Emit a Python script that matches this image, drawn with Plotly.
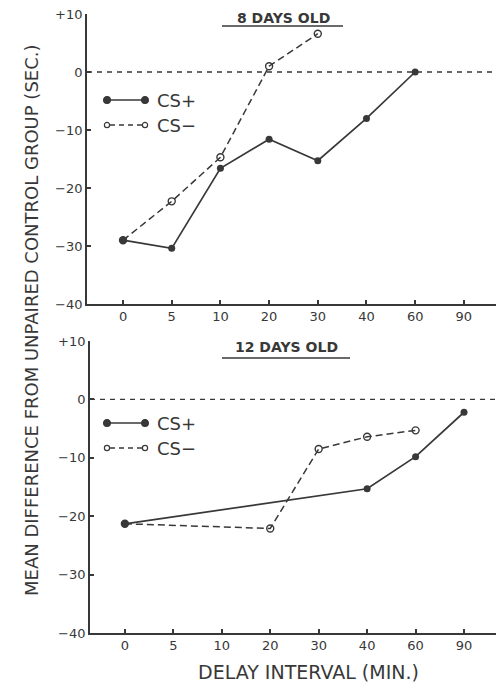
import plotly.graph_objects as go

W, H = 496, 683

categories = ["0", "5", "10", "20", "30", "40", "60", "90"]
y_tickvals = [10, 0, -10, -20, -30, -40]
y_ticktext = ["+10", "0", "\u221210", "\u221220", "\u221230", "\u221240"]

# 8 days old
d8_csplus_x = ["0", "5", "10", "20", "30", "40", "60"]
d8_csplus_y = [-29.0, -30.4, -16.6, -11.6, -15.3, -8.0, 0.0]
d8_csminus_x = ["0", "5", "10", "20", "30"]
d8_csminus_y = [-29.0, -22.3, -14.7, 1.0, 6.6]

# 12 days old
d12_csplus_x = ["0", "40", "60", "90"]
d12_csplus_y = [-21.3, -15.3, -9.8, -2.2]
d12_csminus_x = ["0", "20", "30", "40", "60"]
d12_csminus_y = [-21.3, -22.1, -8.5, -6.4, -5.3]

INK = "#383838"
FONT = "DejaVu Sans"


def px(x):
    return x / W


def py(y):
    return 1 - y / H


fig = go.Figure()

panels = [
    dict(xa="x", ya="y", cp=(d8_csplus_x, d8_csplus_y), cm=(d8_csminus_x, d8_csminus_y)),
    dict(xa="x2", ya="y2", cp=(d12_csplus_x, d12_csplus_y), cm=(d12_csminus_x, d12_csminus_y)),
]

for p in panels:
    fig.add_trace(go.Scatter(
        x=p["cm"][0], y=p["cm"][1], xaxis=p["xa"], yaxis=p["ya"],
        mode="lines+markers", showlegend=False, cliponaxis=False,
        line=dict(color=INK, width=1.5, dash="7px,4px"),
        marker=dict(symbol="circle-open", size=7, color=INK, line=dict(width=1.4)),
    ))
    fig.add_trace(go.Scatter(
        x=p["cp"][0], y=p["cp"][1], xaxis=p["xa"], yaxis=p["ya"],
        mode="lines+markers", showlegend=False, cliponaxis=False,
        line=dict(color=INK, width=1.7),
        marker=dict(symbol="circle", size=7, color=INK),
    ))

axis_common = dict(
    showline=True, linecolor=INK, linewidth=1.7, automargin=False,
    ticks="inside", ticklen=4, tickwidth=1.5, tickcolor=INK,
    showgrid=False, zeroline=False,
    tickfont=dict(family=FONT, size=13, color=INK),
)

fig.update_layout(
    width=W, height=H,
    margin=dict(l=0, r=0, t=0, b=0),
    paper_bgcolor="white", plot_bgcolor="white",
    xaxis=dict(domain=[px(87), 1], anchor="y", type="category",
               categoryarray=categories, tickvals=categories,
               range=[-0.74, 7.66], **axis_common),
    yaxis=dict(domain=[py(304), py(14)], anchor="x", range=[-40, 10],
               tickvals=y_tickvals, ticktext=y_ticktext, **axis_common),
    xaxis2=dict(domain=[px(90), 1], anchor="y2", type="category",
                categoryarray=categories, tickvals=categories,
                range=[-0.72, 7.66], **axis_common),
    yaxis2=dict(domain=[py(633), py(341)], anchor="x2", range=[-40, 10],
                tickvals=y_tickvals, ticktext=y_ticktext, **axis_common),
)

shapes = []
annotations = []

# zero reference lines
for xr, yr in (("x domain", "y"), ("x2 domain", "y2")):
    shapes.append(dict(type="line", xref=xr, yref=yr, x0=0, x1=1, y0=0, y1=0,
                       line=dict(color=INK, width=1.4, dash="5px,5px")))

# panel titles with underline
for label, cx, cy, ux0, ux1, uy in (("8 DAYS OLD", 283, 18, 222, 343, 26),
                                     ("12 DAYS OLD", 286, 347, 222, 350, 358)):
    annotations.append(dict(text="<b>%s</b>" % label, x=px(cx), y=py(cy),
                            xref="paper", yref="paper",
                            showarrow=False, xanchor="center", yanchor="middle",
                            font=dict(family=FONT, size=14, color=INK)))
    shapes.append(dict(type="line", xref="paper", yref="paper",
                       x0=px(ux0), x1=px(ux1), y0=py(uy), y1=py(uy),
                       line=dict(color=INK, width=1.7)))


# legends
def circle(cx, cy, r, filled):
    return dict(type="circle", xref="paper", yref="paper",
                x0=px(cx - r), x1=px(cx + r), y0=py(cy + r), y1=py(cy - r),
                fillcolor=INK if filled else "white",
                line=dict(color=INK, width=1.2))


for y_plus, y_minus in ((100, 125), (423, 448)):
    shapes.append(dict(type="line", xref="paper", yref="paper",
                       x0=px(107), x1=px(145), y0=py(y_plus), y1=py(y_plus),
                       line=dict(color=INK, width=1.7)))
    shapes.append(circle(107, y_plus, 3.4, True))
    shapes.append(circle(145, y_plus, 3.4, True))
    shapes.append(dict(type="line", xref="paper", yref="paper",
                       x0=px(110), x1=px(142), y0=py(y_minus), y1=py(y_minus),
                       line=dict(color=INK, width=1.4, dash="5px,4px")))
    shapes.append(circle(107, y_minus, 2.6, False))
    shapes.append(circle(145, y_minus, 2.6, False))
    annotations.append(dict(text="CS+", x=px(155), y=py(y_plus), xref="paper", yref="paper",
                            showarrow=False, xanchor="left", yanchor="middle",
                            font=dict(family=FONT, size=18, color=INK)))
    annotations.append(dict(text="CS\u2212", x=px(155), y=py(y_minus), xref="paper", yref="paper",
                            showarrow=False, xanchor="left", yanchor="middle",
                            font=dict(family=FONT, size=18, color=INK)))

# axis titles
annotations.append(dict(text="MEAN DIFFERENCE FROM UNPAIRED CONTROL GROUP (SEC.)",
                        x=px(31), y=py(320), xref="paper", yref="paper", textangle=-90,
                        showarrow=False, xanchor="center", yanchor="middle",
                        font=dict(family=FONT, size=18, color=INK)))
annotations.append(dict(text="DELAY INTERVAL (MIN.)",
                        x=px(308), y=py(672), xref="paper", yref="paper",
                        showarrow=False, xanchor="center", yanchor="middle",
                        font=dict(family=FONT, size=19, color=INK)))

fig.update_layout(shapes=shapes, annotations=annotations)

fig.write_html(
    "out.html",
    config={"displayModeBar": False},
    post_script="document.body.style.margin='0';document.body.style.overflow='hidden';",
)
